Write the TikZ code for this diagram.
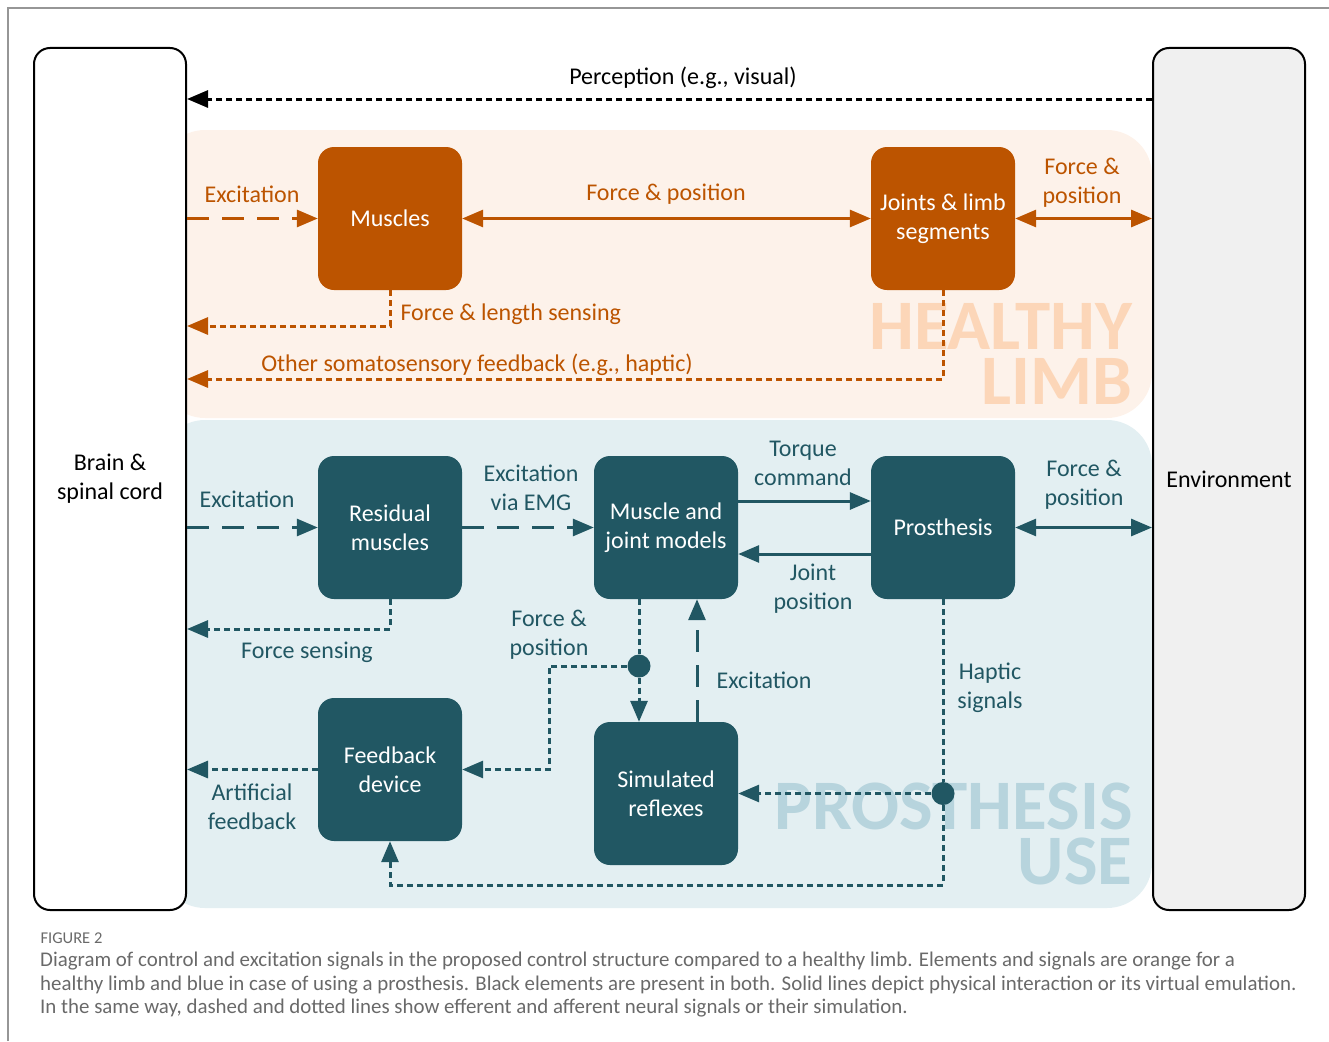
\documentclass[tikz,border=0pt]{standalone}
\usepackage{fontspec}
\setmainfont{Carlito}
\usetikzlibrary{arrows.meta}
\definecolor{hlimb}{RGB}{188,84,0}
\definecolor{pros}{RGB}{33,87,99}
\definecolor{hlback}{RGB}{253,242,234}
\definecolor{prback}{RGB}{227,239,242}
\definecolor{hlwm}{RGB}{252,214,184}
\definecolor{prwm}{RGB}{183,212,221}
\definecolor{envgray}{RGB}{240,240,240}
\definecolor{capgray}{RGB}{105,105,105}
\definecolor{framegray}{RGB}{150,150,150}
\newcommand{\lblfont}{\fontsize{24}{29}\selectfont}
\newcommand{\wmfont}{\fontsize{71}{55}\selectfont\bfseries}
\tikzset{
  hb/.style={rectangle, rounded corners=16pt, minimum width=144pt, minimum height=143pt, align=center, text=white, fill=hlimb, font=\lblfont},
  pb/.style={hb, fill=pros},
  side/.style={rectangle, rounded corners=16pt, draw=black, line width=2pt, minimum width=152pt, minimum height=862pt, align=center, font=\lblfont},
  lab/.style={align=center, font=\lblfont},
  wm/.style={anchor=east, align=right, font=\wmfont},
  jn/.style={circle, fill=pros, minimum size=23pt, inner sep=0pt},
  phy/.style={line width=3pt},
  eff/.style={line width=3pt, dash pattern=on 22pt off 13pt},
  aff/.style={line width=3pt, dash pattern=on 6pt off 4pt},
  ar/.style={-{Triangle[length=21pt,width=17pt]}},
  dar/.style={{Triangle[length=21pt,width=17pt]}-{Triangle[length=21pt,width=17pt]}}
}

\begin{document}
\begin{tikzpicture}[x=1pt,y=-1pt]
	\useasboundingbox (0,0) rectangle (1329,1041);
	\draw[framegray, line width=1.5pt] (8,1041) -- (8,8) -- (1329,8);
	% shaded areas
	\fill[hlback, rounded corners=45pt] (160,130) rectangle (1152,418);
	\fill[prback, rounded corners=45pt] (160,420) rectangle (1152,908);
	\node[wm, text=hlwm] (wmh) at (1136,353.5) {HEALTHY\\LIMB};
	\node[wm, text=prwm] (wmp) at (1136,833.5) {PROSTHESIS\\USE};
	% side blocks
	\node[side, fill=white] (brain) at (110,479) {Brain \&\\spinal cord};
	\node[side, fill=envgray] (env) at (1229,479) {Environment};
	% healthy limb
	\node[hb] (mus) at (390,218.5) {Muscles};
	\node[hb] (jls) at (943,218.5) {Joints \& limb\\segments};
	% prosthesis
	\node[pb] (res) at (390,527.5) {Residual\\muscles};
	\node[pb] (mjm) at (666,527.5) {Muscle and\\joint models};
	\node[pb] (pro) at (943,527.5) {Prosthesis};
	\node[pb] (fbd) at (390,769.5) {Feedback\\device};
	\node[pb] (sim) at (666,793.5) {Simulated\\reflexes};
	\node[jn] (fpj) at (639,666) {};
	\node[jn] (hpj) at (943,793.5) {};

	\draw[aff, ar, black] (env.west |- 0,99) -- (brain.east |- 0,99);
	\node[lab] (per) at (683,78) {Perception (e.g., visual)};

	\draw[eff, ar, hlimb] (brain.east |- mus.west) -- (mus.west);
	\draw[phy, dar, hlimb] (mus.east) -- (jls.west);
	\draw[phy, dar, hlimb] (jls.east) -- (env.west |- jls.east);
	\draw[aff, ar, hlimb] (mus.south) |- (brain.east |- 0,326);
	\draw[aff, ar, hlimb] (jls.south) |- (brain.east |- 0,379);
	\node[lab, text=hlimb] (hex) at (252,194) {Excitation};
	\node[lab, text=hlimb] (hfp) at (666,194) {Force \& position};
	\node[lab, text=hlimb] (hfpe) at (1082,183) {Force \&\\position};
	\node[lab, text=hlimb, anchor=west] (hfl) at (397,314) {Force \& length sensing};
	\node[lab, text=hlimb] (hos) at (477,365) {Other somatosensory feedback (e.g., haptic)};

	\draw[eff, ar, pros] (brain.east |- res.west) -- (res.west);
	\draw[eff, ar, pros] (res.east) -- (mjm.west);
	\draw[phy, ar, pros] ([yshift=26.5pt]mjm.east) -- ([yshift=26.5pt]mjm.east -| pro.west);
	\draw[phy, ar, pros] ([yshift=-26.5pt]pro.west) -- ([yshift=-26.5pt]pro.west -| mjm.east);
	\draw[phy, dar, pros] (pro.east) -- (env.west |- pro.east);
	\draw[aff, ar, pros] (res.south) |- (brain.east |- 0,629);
	\draw[aff, ar, pros] (fbd.west) -- (brain.east |- fbd.west);
	\draw[aff, pros] ([xshift=-27pt]mjm.south) -- (fpj);
	\draw[aff, ar, pros] (fpj) -- ([xshift=-27pt]sim.north);
	\draw[aff, ar, pros] (fpj) -| ([xshift=87pt]fbd.east) -- (fbd.east);
	\draw[eff, ar, pros] ([xshift=31pt]sim.north) -- ([xshift=31pt]mjm.south);
	\draw[aff, pros] (pro.south) -- (hpj);
	\draw[aff, ar, pros] (hpj) -- (sim.east);
	\draw[aff, ar, pros] (hpj) -- (hpj |- 0,885) -| (fbd.south);
	\node[lab, text=pros] (pex) at (247,499) {Excitation};
	\node[lab, text=pros] (emg) at (531,488) {Excitation\\via EMG};
	\node[lab, text=pros] (tqc) at (803,463) {Torque\\command};
	\node[lab, text=pros] (jpo) at (813,589) {Joint\\position};
	\node[lab, text=pros] (pfpe) at (1084,485) {Force \&\\position};
	\node[lab, text=pros] (fse) at (307,652) {Force sensing};
	\node[lab, text=pros] (pfp) at (549,635) {Force \&\\position};
	\node[lab, text=pros] (rex) at (764,680) {Excitation};
	\node[lab, text=pros] (hap) at (990,688) {Haptic\\signals};
	\node[lab, text=pros] (afb) at (252,807) {Artificial\\feedback};

	% caption
	\node[anchor=west, text=capgray, font=\fontsize{16.5}{19}\selectfont] (fig) at (37,938) {FIGURE 2};
	\node[anchor=north west, align=left, text=capgray, font=\fontsize{20.9}{23.5}\selectfont, inner sep=0pt] (cap) at (40,952) {Diagram of control and excitation signals in the proposed control structure compared to a healthy limb. Elements and signals are orange for a\\healthy limb and blue in case of using a prosthesis. Black elements are present in both. Solid lines depict physical interaction or its virtual emulation.\\In the same way, dashed and dotted lines show efferent and afferent neural signals or their simulation.};
\end{tikzpicture}
\end{document}
